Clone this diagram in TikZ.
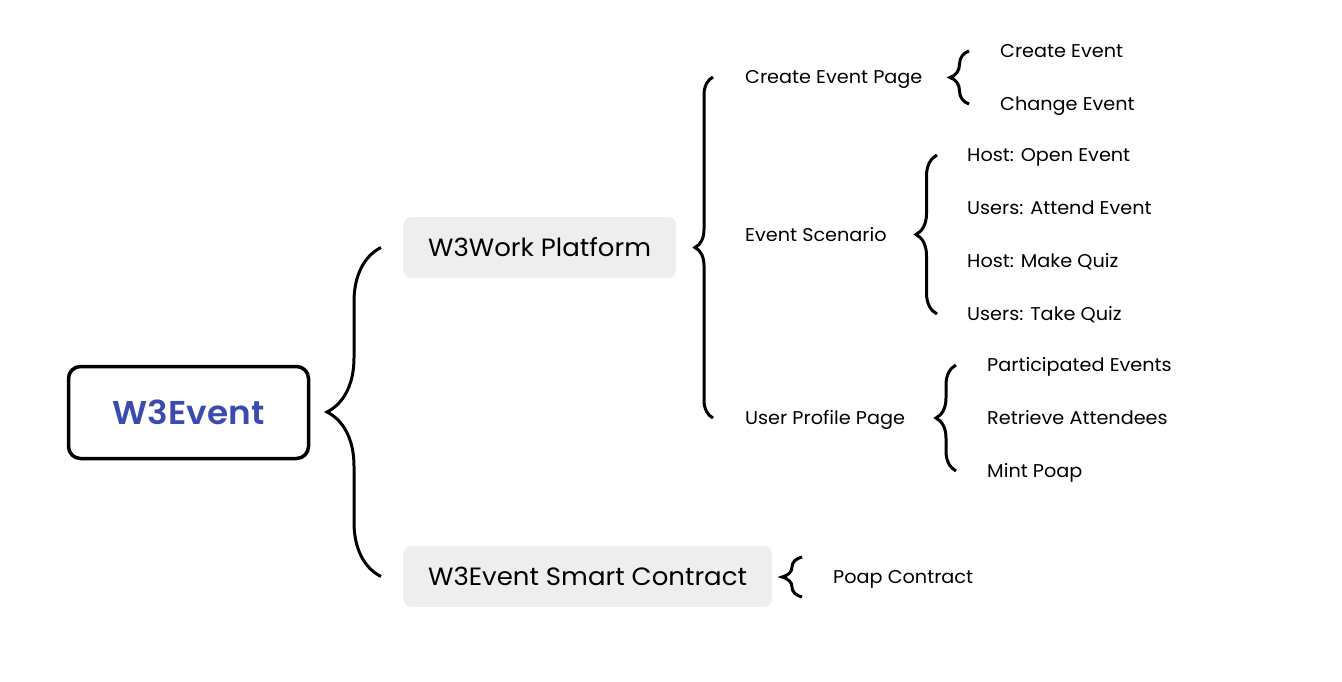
\documentclass[tikz,border=0pt]{standalone}
\usepackage{fontspec}
\setmainfont{Poppins}[FakeStretch=1.04]
\newfontfamily\titlefont{Poppins SemiBold}[FakeStretch=1.04]
\usepackage{tikz}
\usetikzlibrary{decorations.pathreplacing}

\definecolor{titleblue}{HTML}{3B4BAE}
\definecolor{boxgray}{HTML}{EEEEEE}

\tikzset{
  leaf/.style={anchor=west,inner sep=0pt,text height=13pt,text depth=0pt,font=\fontsize{18.5}{22}\selectfont},
  branch/.style={anchor=west,fill=boxgray,rounded corners=8pt,inner xsep=25pt,inner ysep=0pt,minimum height=61pt,text height=17.5pt,text depth=0pt,font=\fontsize{25}{30}\selectfont},
  rootbox/.style={draw,line width=3.5pt,rounded corners=12pt,minimum width=240pt,minimum height=92pt,text height=23pt,text depth=0pt,text=titleblue,font=\fontsize{33}{38}\titlefont},
  curly/.style={decorate,decoration={brace,amplitude=#1},line width=3pt}
}

\begin{document}
\begin{tikzpicture}[x=1pt,y=-1pt]
\useasboundingbox (0,0) rectangle (1342,682);

\node [rootbox] (root) at (188.5,412.5) {W3Event};

\node [branch] (platform) at (403,247.5) {W3Work Platform};
\node [branch] (contract) at (403,576.5) {W3Event Smart Contract};

\node [leaf] (createpage) at (745,77) {Create Event Page};
\node [leaf] (scenario) at (745,235) {Event Scenario};
\node [leaf] (profile) at (745,418) {User Profile Page};

\node [leaf] (create) at (1000,51) {Create Event};
\node [leaf] (change) at (1000,104) {Change Event};

\node [leaf] (openevt) at (967,155) {Host: Open Event};
\node [leaf] (attend) at (967,208) {Users: Attend Event};
\node [leaf] (makequiz) at (967,261) {Host: Make Quiz};
\node [leaf] (takequiz) at (967,314) {Users: Take Quiz};

\node [leaf] (participated) at (987,365) {Participated Events};
\node [leaf] (attendees) at (987,418) {Retrieve Attendees};
\node [leaf] (mint) at (987,471) {Mint Poap};

\node [leaf] (poap) at (833,577) {Poap Contract};

\draw [curly=54pt] ([xshift=-22pt]contract.west) -- ([xshift=-22pt]platform.west);
\draw [curly=18pt] ([xshift=-32pt]profile.west) -- ([xshift=-32pt]createpage.west);
\draw [curly=19pt] ([xshift=-31pt]change.west) -- ([xshift=-31pt]create.west);
\draw [curly=21pt] ([xshift=-30pt]takequiz.west) -- ([xshift=-30pt]openevt.west);
\draw [curly=20pt] ([xshift=-31pt]mint.west) -- ([xshift=-31pt]participated.west);
\draw [curly=20pt] ([shift={(-31pt,-20pt)}]poap.west) -- ([shift={(-31pt,20pt)}]poap.west);

\end{tikzpicture}
\end{document}
